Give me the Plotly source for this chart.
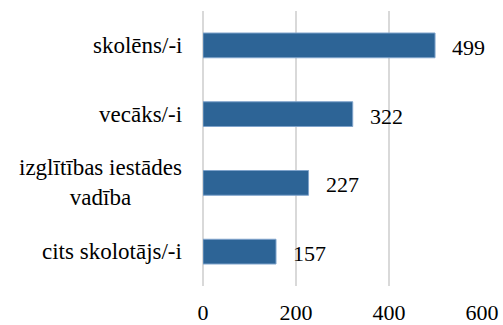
import plotly.graph_objects as go

# Respondent groups (top to bottom) and their counts
categories = ["skolēns/-i", "vecāks/-i", "izglītības iestādes<br>vadība", "cits skolotājs/-i"]
values = [499, 322, 227, 157]
x_ticks = [0, 200, 400, 600]

FONT = "Liberation Serif"
BAR = "#2d6496"

fig = go.Figure(
    go.Bar(
        x=values,
        y=categories,
        orientation="h",
        marker=dict(color=BAR, line=dict(color="#7fa3cb", width=1)),
        width=0.36,
        hoverinfo="skip",
    )
)

# value labels to the right of each bar
for c, v in zip(categories, values):
    fig.add_annotation(
        x=v, y=c, xref="x", yref="y", text=str(v), showarrow=False,
        xanchor="left", xshift=15, yshift=-2,
        font=dict(family=FONT, size=22, color="#000000"),
    )

# category labels, centred lines, right-aligned against the axis
for c in categories:
    fig.add_annotation(
        x=0, y=c, xref="paper", yref="y", text=c, showarrow=False,
        xanchor="right", xshift=-19, align="center",
        font=dict(family=FONT, size=23, color="#000000"),
    )

fig.update_layout(
    width=503,
    height=325,
    margin=dict(l=203, r=21, t=11, b=39, autoexpand=False),
    paper_bgcolor="white",
    plot_bgcolor="white",
    showlegend=False,
    font=dict(family=FONT),
    xaxis=dict(
        range=[0, 600],
        tickvals=x_ticks,
        ticktext=[str(t) for t in x_ticks],
        showgrid=True,
        gridcolor="#d9d9d9",
        gridwidth=2,
        zeroline=True,
        zerolinecolor="#d9d9d9",
        zerolinewidth=2,
        showline=False,
        ticks="",
        automargin=False,
        ticklabelstandoff=11,
        tickfont=dict(family=FONT, size=22, color="#000000"),
        fixedrange=True,
    ),
    yaxis=dict(
        categoryorder="array",
        categoryarray=categories[::-1],
        showticklabels=False,
        showgrid=False,
        zeroline=False,
        ticks="",
        automargin=False,
        fixedrange=True,
    ),
)

fig.write_html("out.html")
